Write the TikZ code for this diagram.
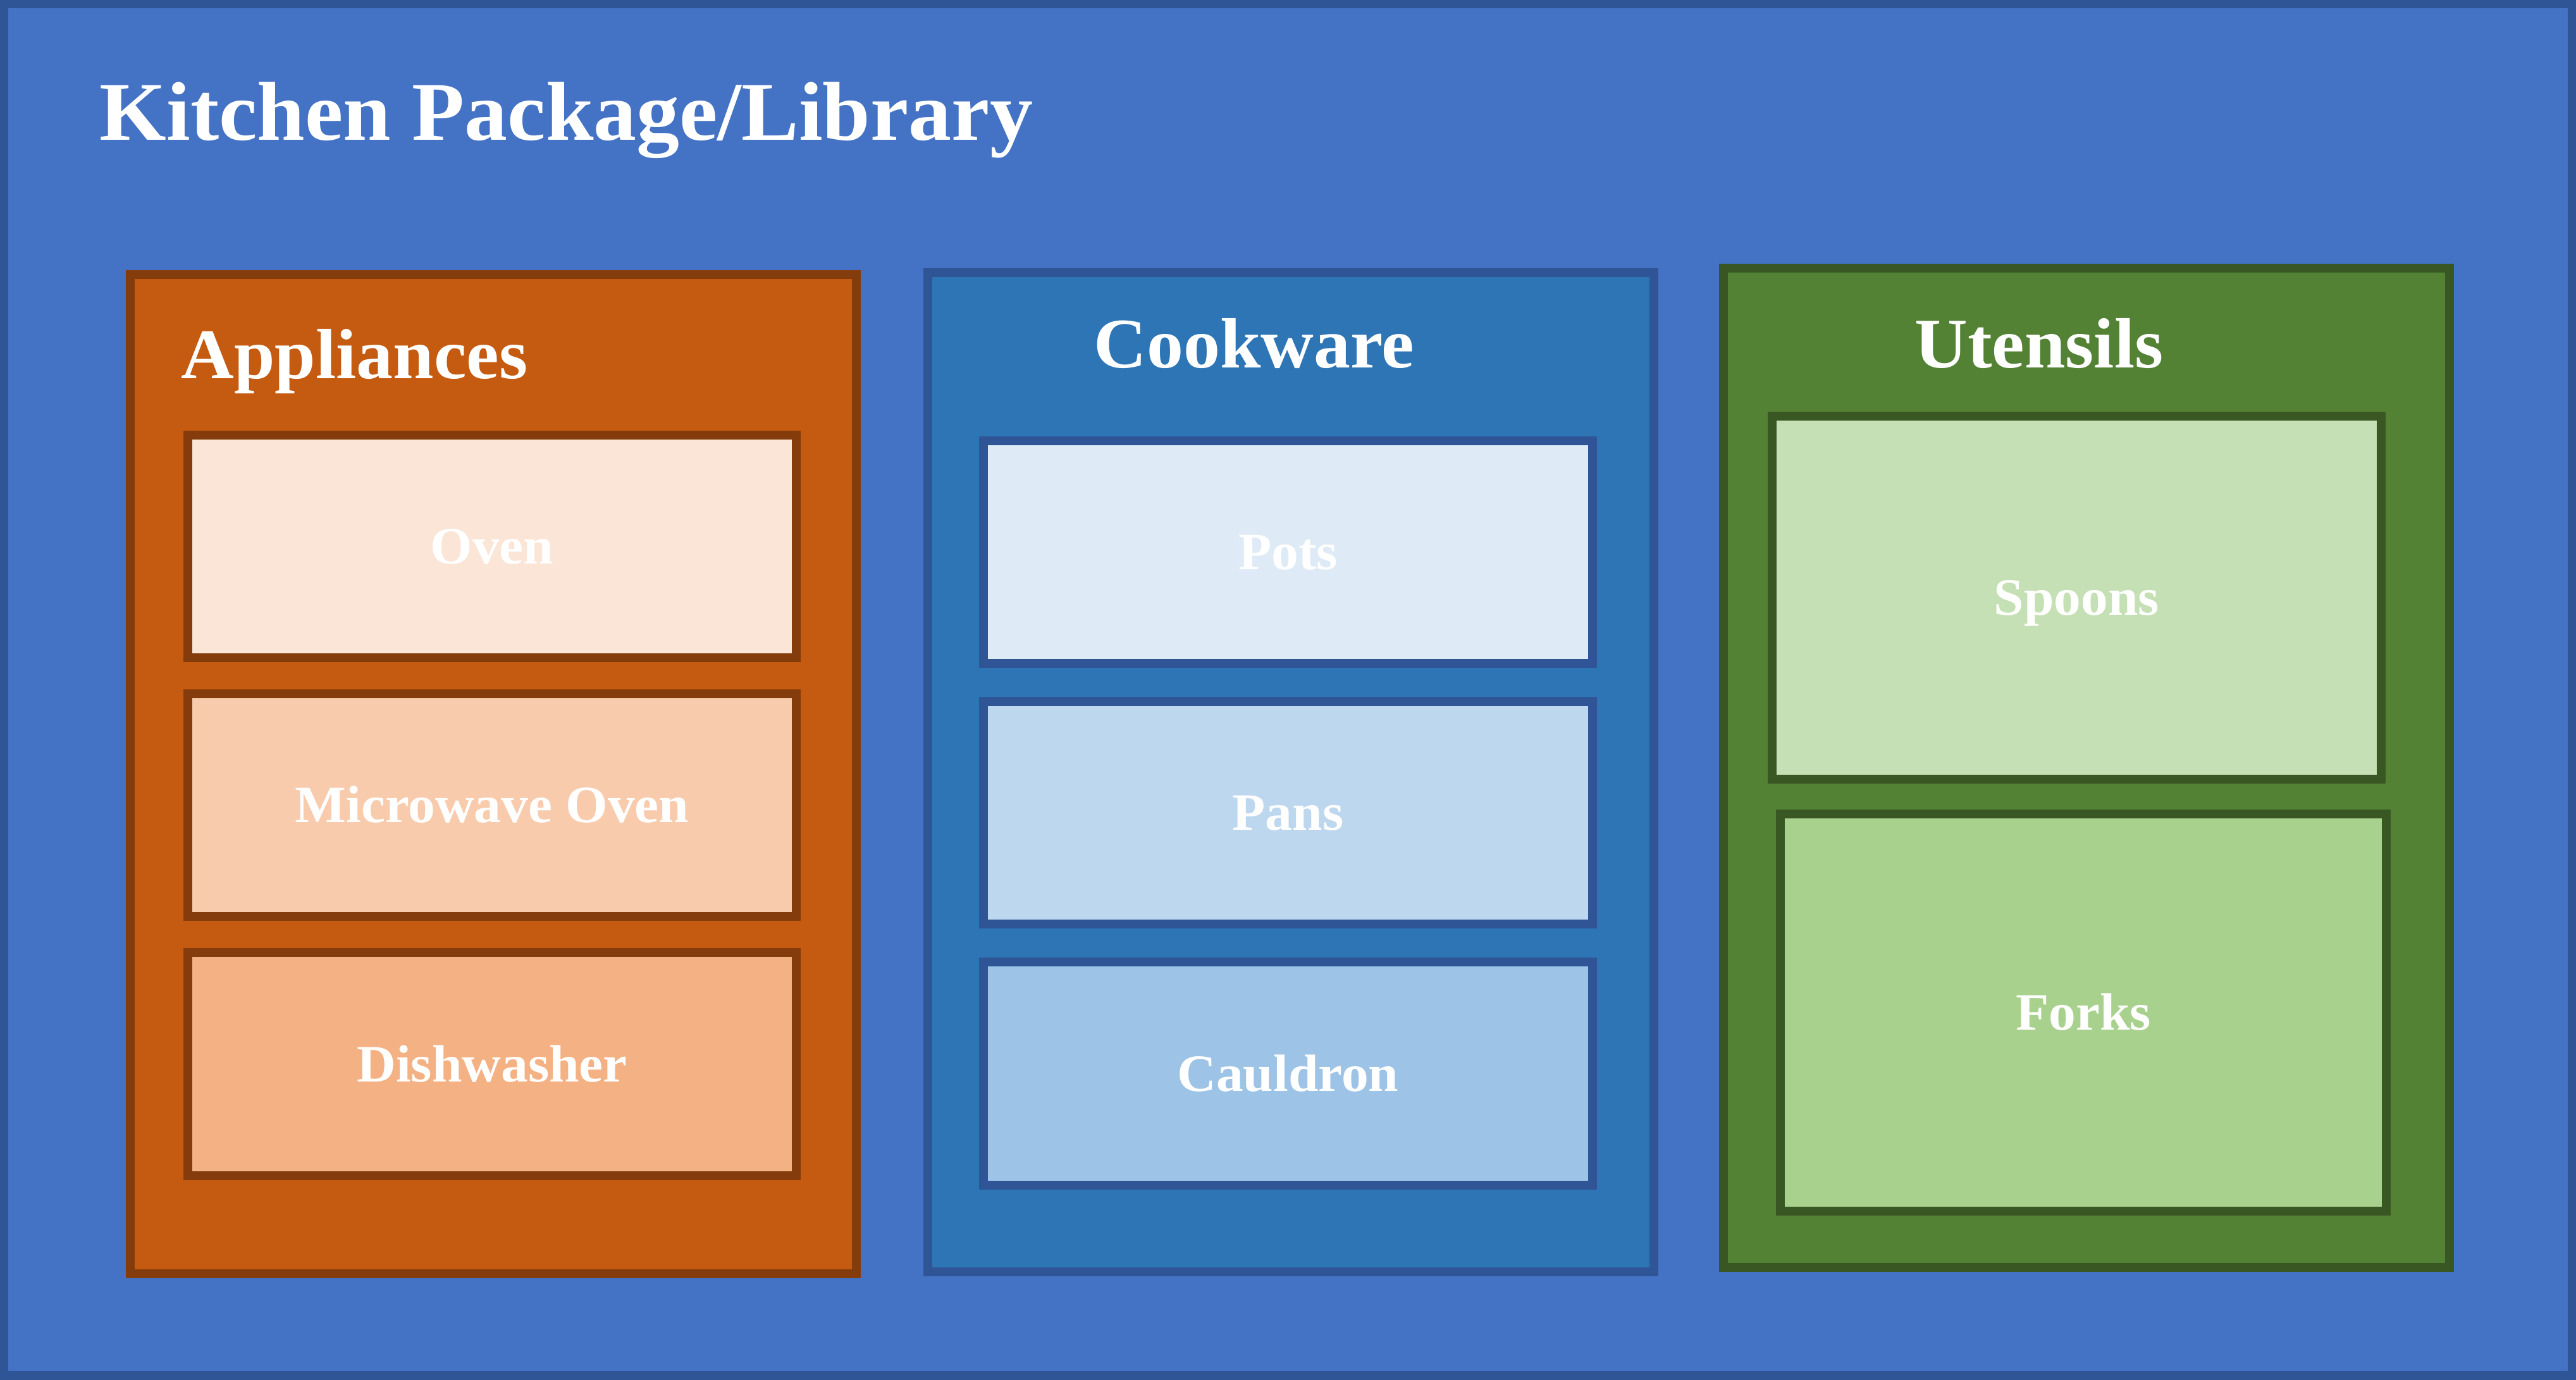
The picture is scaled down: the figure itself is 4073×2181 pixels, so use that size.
\documentclass[tikz,border=0pt]{standalone}
\usepackage{fontspec}
\setmainfont[FakeStretch=1.03]{Liberation Serif}
\usepackage{xcolor}
\usetikzlibrary{positioning}
\definecolor{kitchen}{HTML}{4472C4}
\definecolor{kitchenedge}{HTML}{2F5597}
\definecolor{appliance}{HTML}{C55A11}
\definecolor{applianceedge}{HTML}{843C0C}
\definecolor{ovenfill}{HTML}{FBE5D6}
\definecolor{microfill}{HTML}{F8CBAD}
\definecolor{dishfill}{HTML}{F4B183}
\definecolor{cookware}{HTML}{2E75B6}
\definecolor{cookwareedge}{HTML}{2F5597}
\definecolor{potsfill}{HTML}{DEEBF7}
\definecolor{pansfill}{HTML}{BDD7EE}
\definecolor{cauldronfill}{HTML}{9DC3E6}
\definecolor{utensil}{HTML}{548235}
\definecolor{utensiledge}{HTML}{385723}
\definecolor{spoonsfill}{HTML}{C5E0B4}
\definecolor{forksfill}{HTML}{A9D18E}
\newcommand\kmainfont{\fontsize{37.5pt}{44pt}\selectfont\bfseries}
\newcommand\kgroupfont{\fontsize{32pt}{38pt}\selectfont\bfseries}
\newcommand\kitemfont{\fontsize{23.6pt}{28pt}\selectfont\bfseries}
\tikzset{
  kitchenframe/.style={draw=kitchenedge,fill=kitchen,line width=1.4mm,inner sep=0pt,
    minimum width=40.59cm,minimum height=21.67cm},
  groupbox/.style 2 args={draw=#1,fill=#2,line width=1.4mm,inner sep=0pt,
    minimum width=11.48cm,minimum height=15.80cm},
  itembox/.style 2 args={draw=#1,fill=#2,line width=1.4mm,inner sep=0pt,
    minimum width=9.62cm,minimum height=3.52cm,text=white,font=\kitemfont,
    text height=0.55cm,text depth=0pt},
  grouptitle/.style={text=white,font=\kgroupfont,inner sep=0pt},
  maintitle/.style={text=white,font=\kmainfont,inner sep=0pt}
}
\begin{document}
\begin{tikzpicture}[x=0.01cm,y=-0.01cm]
  \useasboundingbox (0,0) rectangle (4073,2181);
  \node[kitchenframe] (kitchen) at (2036.5,1090.5) {};
  \node[maintitle,anchor=base west] (title) at (157,221) {Kitchen Package/Library};
  % appliances
  \node[groupbox={applianceedge}{appliance}] (appliances) at (780,1224) {};
  \node[grouptitle,anchor=base west] (appliancestitle) at (286,598) {Appliances};
  \node[itembox={applianceedge}{ovenfill}] (oven) at (778,864) {Oven};
  \node[itembox={applianceedge}{microfill},below=0.43cm of oven] (microwave) {Microwave Oven};
  \node[itembox={applianceedge}{dishfill},below=0.43cm of microwave] (dishwasher) {Dishwasher};
  % cookware
  \node[groupbox={cookwareedge}{cookware}] (cookware) at (2041,1221) {};
  \node[grouptitle,anchor=base] (cookwaretitle) at (1983,581) {Cookware};
  \node[itembox={cookwareedge}{potsfill}] (pots) at (2036.5,873) {Pots};
  \node[itembox={cookwareedge}{pansfill},below=0.46cm of pots] (pans) {Pans};
  \node[itembox={cookwareedge}{cauldronfill},below=0.46cm of pans] (cauldron) {Cauldron};
  % utensils
  \node[groupbox={utensiledge}{utensil}] (utensils) at (3299,1214) {};
  \node[grouptitle,anchor=base] (utensilstitle) at (3224,581) {Utensils};
  \node[itembox={utensiledge}{spoonsfill},minimum width=9.63cm,minimum height=5.74cm] (spoons) at (3283.5,945) {Spoons};
  \node[itembox={utensiledge}{forksfill},minimum width=9.58cm,minimum height=6.28cm] (forks) at (3294,1601) {Forks};
\end{tikzpicture}
\end{document}
